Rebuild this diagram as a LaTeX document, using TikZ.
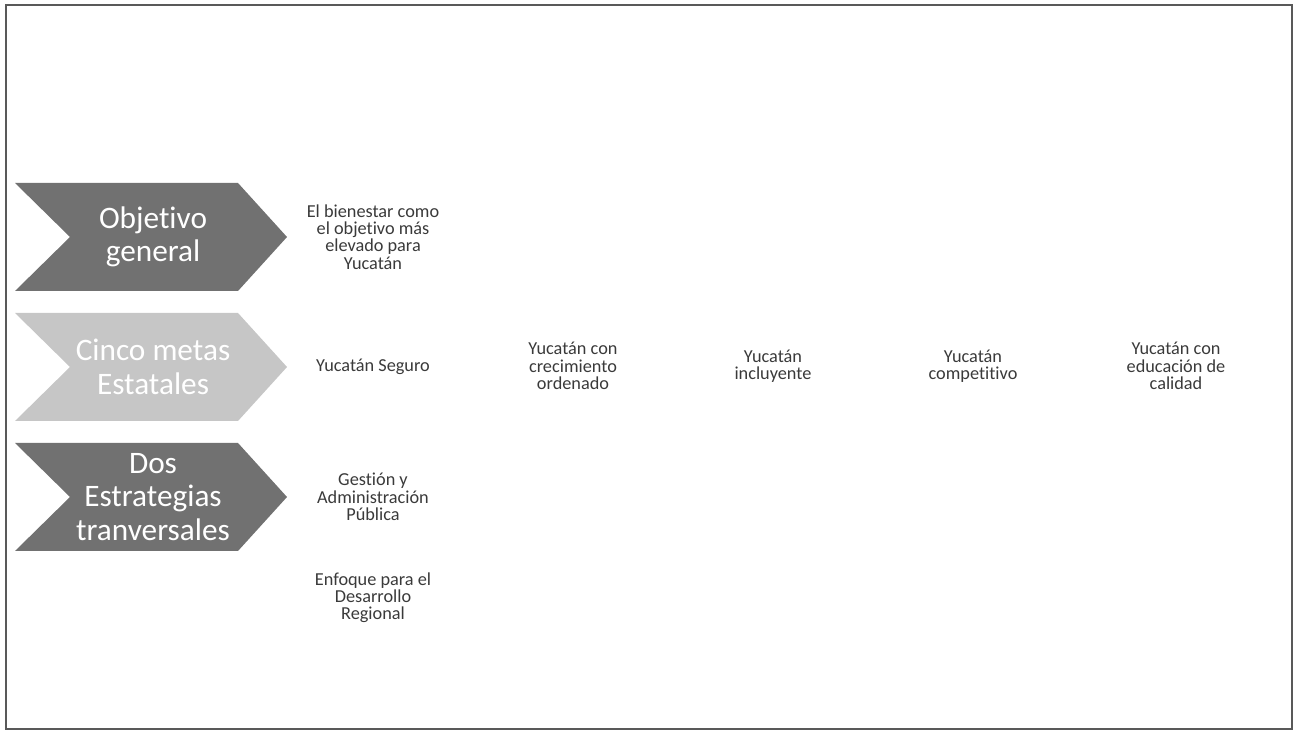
\documentclass[tikz,border=0pt]{standalone}
\usepackage{fontspec}
\setmainfont[Ligatures=NoCommon]{Carlito}
\usetikzlibrary{positioning}
\definecolor{darkchev}{HTML}{717171}
\definecolor{lightchev}{HTML}{C6C6C6}
\definecolor{txtgray}{HTML}{3A3A3A}
\newcommand{\chevronBox}[4]{% #1: name of the node
                            % #2: fill colour
                            % #3: top y of the chevron
                            % #4: text
    \def\h{108}
    \fill[#2] (\chevleft,#3) -- (\chevcorner,#3) -- (\chevtip,#3+\h/2)
        -- (\chevcorner,#3+\h) -- (\chevleft,#3+\h) -- (\chevnotch,#3+\h/2) -- cycle;
    \node (#1) [chevtext, at={(153,#3+\h/2)}] {#4};
   }

\begin{document}
\begin{tikzpicture}[x=0.02cm,y=-0.02cm,
  chevtext/.style={align=center, text=white, font=\fontsize{17.8}{19}\selectfont, inner sep=0pt},
  desc/.style={align=center, text=txtgray, font=\fontsize{10.4}{9.8}\selectfont, inner sep=0pt}]

\useasboundingbox (0,0) rectangle (1296,732);
\draw[line width=1.2pt, draw=gray!70!black] (6,5) rectangle (1292,729);

\def\chevleft{15};\def\chevnotch{70};\def\chevcorner{238};\def\chevtip{287};

\chevronBox{obj}{darkchev}{183}{Objetivo\\general};
\chevronBox{metas}{lightchev}{313}{Cinco metas\\Estatales};
\chevronBox{estr}{darkchev}{443}{Dos\\Estrategias\\tranversales};

\node (bienestar) [desc] at (373,237) {El bienestar como\\el objetivo más\\elevado para\\Yucatán};

\node (seguro) [desc] at (373,367) {Yucatán Seguro};
\node (crec) [desc] at (573,366) {Yucatán con\\crecimiento\\ordenado};
\node (incl) [desc] at (773,366) {Yucatán\\incluyente};
\node (comp) [desc] at (973,366) {Yucatán\\competitivo};
\node (educ) [desc] at (1176,366) {Yucatán con\\educación de\\calidad};

\node (gestion) [desc] at (373,497) {Gestión y\\Administración\\Pública};
\node (enfoque) [desc] at (373,598) {Enfoque para el\\Desarrollo\\Regional};
\end{tikzpicture}
\end{document}
